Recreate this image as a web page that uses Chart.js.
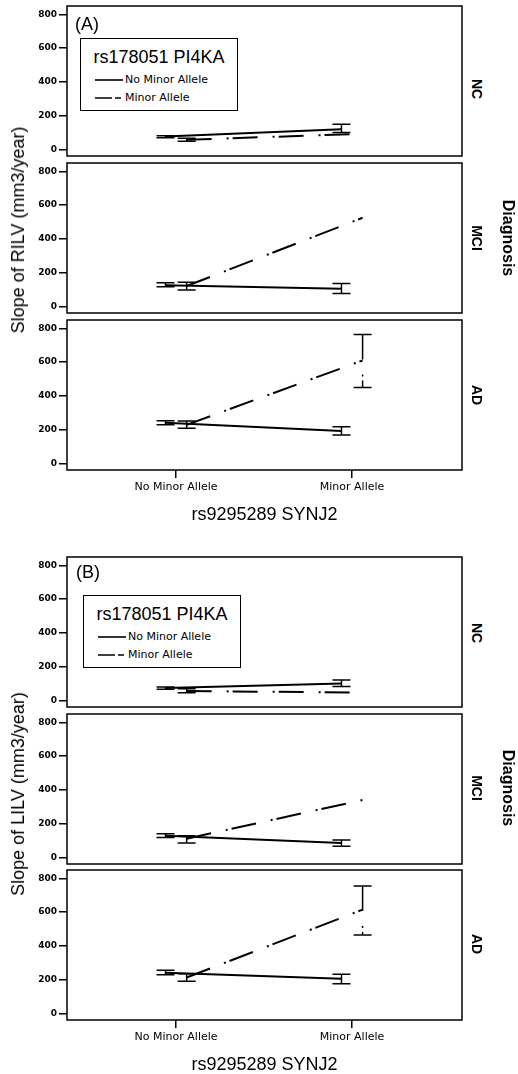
<!DOCTYPE html>
<html>
<head>
<meta charset="utf-8">
<script src="https://cdn.jsdelivr.net/npm/chart.js@4.4.1/dist/chart.umd.min.js"></script>
<style>
body { margin: 0; background: #fff; width: 518px; height: 1074px; position: relative; overflow: hidden;
       font-family: "Liberation Sans", Arial, sans-serif; color: #000; }
canvas { position: absolute; left: 0; }
.t { position: absolute; white-space: nowrap; transform: translate(-50%, -50%); line-height: 1; }
.rot-up { transform: translate(-50%, -50%) rotate(-90deg); }
.rot-dn { transform: translate(-50%, -50%) rotate(90deg); }
.legend { position: absolute; border: 1.5px solid #000; box-sizing: border-box; width: 158px; height: 73px; background: #fff; }
.legend .ttl { position: absolute; left: 0; right: 0; text-align: center; font-size: 18px; line-height: 1; }
.legend .item { position: absolute; font-family: "DejaVu Sans"; font-size: 11px; line-height: 1; }
.legend svg { position: absolute; }
</style>
</head>
<body>
<script>
// data
const categories = ['No Minor Allele', 'Minor Allele'];    // rs9295289 SYNJ2
const seriesNames = ['No Minor Allele', 'Minor Allele'];   // rs178051 PI4KA
const diagnoses = ['NC', 'MCI', 'AD'];
const yTicks = [0, 200, 400, 600, 800];

// (A) slope of RILV, one row per diagnosis, one value per SYNJ2 category
const rilvNoMinor   = [[75, 118], [125, 104], [240, 192]];
const rilvNoMinorLo = [[68, 99], [116, 75], [228, 167]];
const rilvNoMinorHi = [[80, 148], [139, 135], [252, 217]];
const rilvMinor     = [[56, 92], [120, 525], [228, 610]];
const rilvMinorLo   = [[47, null], [96, null], [207, 450]];
const rilvMinorHi   = [[65, null], [143, null], [250, 764]];

// (B) slope of LILV
const lilvNoMinor   = [[72, 100], [128, 85], [240, 205]];
const lilvNoMinorLo = [[66, 82], [117, 65], [228, 175]];
const lilvNoMinorHi = [[78, 120], [139, 103], [255, 232]];
const lilvMinor     = [[55, 45], [110, 340], [212, 615]];
const lilvMinorLo   = [[45, null], [85, null], [190, 465]];
const lilvMinorHi   = [[68, null], [128, null], [235, 755]];

const figures = [
  { tag: '(A)', yTitle: 'Slope of RILV (mm3/year)',
    means: [rilvNoMinor, rilvMinor], lo: [rilvNoMinorLo, rilvMinorLo], hi: [rilvNoMinorHi, rilvMinorHi],
    tops: [6, 163, 320], tagPos: [87, 24], legendPos: [80, 38], yTitleY: 230, diagY: 238, rowLabelY: [89, 238, 395] },
  { tag: '(B)', yTitle: 'Slope of LILV (mm3/year)',
    means: [lilvNoMinor, lilvMinor], lo: [lilvNoMinorLo, lilvMinorLo], hi: [lilvNoMinorHi, lilvMinorHi],
    tops: [557, 714, 870], tagPos: [88, 572], legendPos: [83, 595], yTitleY: 794, diagY: 788, rowLabelY: [633, 788, 944] }
];

const dodge = [-0.06, 0.06];
const dashes = [[], [25, 15, 2, 4]];
const PAD = 10;

// error bars drawn through the y scale
const errorBars = {
  id: 'errorBars',
  afterDatasetsDraw(chart) {
    const ctx = chart.ctx, y = chart.scales.y;
    chart.data.datasets.forEach((ds, d) => {
      const pts = chart.getDatasetMeta(d).data;
      ctx.save();
      ctx.strokeStyle = '#000';
      ctx.lineWidth = 1.5;
      pts.forEach((p, i) => {
        if (ds.errLo[i] == null) return;
        const y1 = y.getPixelForValue(ds.errLo[i]);
        const y2 = y.getPixelForValue(ds.errHi[i]);
        ctx.setLineDash(ds.borderDash);
        ctx.beginPath();
        ctx.moveTo(p.x, y2); ctx.lineTo(p.x, y1);
        ctx.stroke();
        ctx.setLineDash([]);
        ctx.beginPath();
        ctx.moveTo(p.x - 9, y1); ctx.lineTo(p.x + 9, y1);
        ctx.moveTo(p.x - 9, y2); ctx.lineTo(p.x + 9, y2);
        ctx.stroke();
      });
      ctx.restore();
    });
  }
};

// panel border
const frame = {
  id: 'frame',
  afterDraw(chart) {
    const ctx = chart.ctx, a = chart.chartArea;
    ctx.save();
    ctx.strokeStyle = '#000';
    ctx.lineWidth = 1.5;
    ctx.strokeRect(a.left, a.top, a.right - a.left, a.bottom - a.top);
    ctx.restore();
  }
};

function addText(txt, x, y, css, cls) {
  const el = document.createElement('div');
  el.className = 't' + (cls ? ' ' + cls : '');
  el.textContent = txt;
  el.style.left = x + 'px';
  el.style.top = y + 'px';
  el.style.cssText += css;
  document.body.appendChild(el);
}

function makePanel(fig, row) {
  const last = row === 2;
  const cv = document.createElement('canvas');
  cv.width = 466;
  cv.height = last ? PAD + 150 + 58 : PAD + 150 + PAD;
  cv.style.top = (fig.tops[row] - PAD) + 'px';
  document.body.appendChild(cv);

  const datasets = seriesNames.map((name, s) => ({
    label: name,
    data: categories.map((c, i) => ({ x: i + dodge[s], y: fig.means[s][row][i] })),
    errLo: fig.lo[s][row],
    errHi: fig.hi[s][row],
    borderColor: '#000',
    borderWidth: 2,
    borderDash: dashes[s],
    pointRadius: 0,
    fill: false,
    tension: 0
  }));

  new Chart(cv, {
    type: 'line',
    data: { datasets },
    options: {
      responsive: false,
      animation: false,
      events: [],
      layout: { padding: { top: PAD, right: 4, bottom: last ? 0 : PAD, left: 0 } },
      plugins: { legend: { display: false }, tooltip: { enabled: false } },
      scales: {
        x: {
          type: 'linear', min: -0.62, max: 1.625, display: last,
          afterBuildTicks: s => { s.ticks = categories.map((c, i) => ({ value: i })); },
          afterFit: s => { s.height = last ? 58 : 0; },
          ticks: { callback: v => categories[v], font: { family: 'DejaVu Sans', size: 11 }, color: '#000',
                   padding: 3, maxRotation: 0, autoSkip: false },
          grid: { drawOnChartArea: false, tickLength: 8, color: '#000', lineWidth: 1.5 },
          border: { display: false },
          title: { display: true, text: 'rs9295289 SYNJ2', color: '#000',
                   font: { family: 'Liberation Sans', size: 18 }, padding: { top: 0, bottom: 2 } }
        },
        y: {
          min: -40, max: 850,
          afterBuildTicks: s => { s.ticks = yTicks.map(v => ({ value: v })); },
          afterFit: s => { s.width = 67; },
          ticks: { font: { family: 'DejaVu Sans', size: 9, weight: 'bold' }, color: '#000', padding: 2 },
          grid: { drawOnChartArea: false, tickLength: 8, color: '#000', lineWidth: 1.5 },
          border: { display: false }
        }
      }
    },
    plugins: [errorBars, frame]
  });

  addText(diagnoses[row], 477, fig.rowLabelY[row], 'font-weight:bold;font-size:14px;', 'rot-dn');
}

function makeLegend(fig) {
  const box = document.createElement('div');
  box.className = 'legend';
  box.style.left = fig.legendPos[0] + 'px';
  box.style.top = fig.legendPos[1] + 'px';
  const ttl = document.createElement('div');
  ttl.className = 'ttl';
  ttl.style.top = '9px';
  ttl.textContent = 'rs178051 PI4KA';
  box.appendChild(ttl);
  const legendDash = ['', '17 3 6 30'];
  seriesNames.forEach((name, s) => {
    const cy = 42 + s * 18;
    const svg = document.createElementNS('http://www.w3.org/2000/svg', 'svg');
    svg.setAttribute('width', 28);
    svg.setAttribute('height', 4);
    svg.style.left = '14px';
    svg.style.top = (cy - 3) + 'px';
    svg.innerHTML = '<line x1="0" y1="2" x2="28" y2="2" stroke="#000" stroke-width="1.6" stroke-dasharray="' + legendDash[s] + '"/>';
    box.appendChild(svg);
    const it = document.createElement('div');
    it.className = 'item';
    it.style.left = '44px';
    it.style.top = (cy - 7) + 'px';
    it.textContent = name;
    box.appendChild(it);
  });
  document.body.appendChild(box);
}

figures.forEach(fig => {
  diagnoses.forEach((d, row) => makePanel(fig, row));
  makeLegend(fig);
  addText(fig.tag, fig.tagPos[0], fig.tagPos[1], 'font-size:18px;');
  addText(fig.yTitle, 18, fig.yTitleY, 'font-size:18px;', 'rot-up');
  addText('Diagnosis', 508, fig.diagY, 'font-size:16px;font-weight:bold;', 'rot-dn');
});
</script>
</body>
</html>
